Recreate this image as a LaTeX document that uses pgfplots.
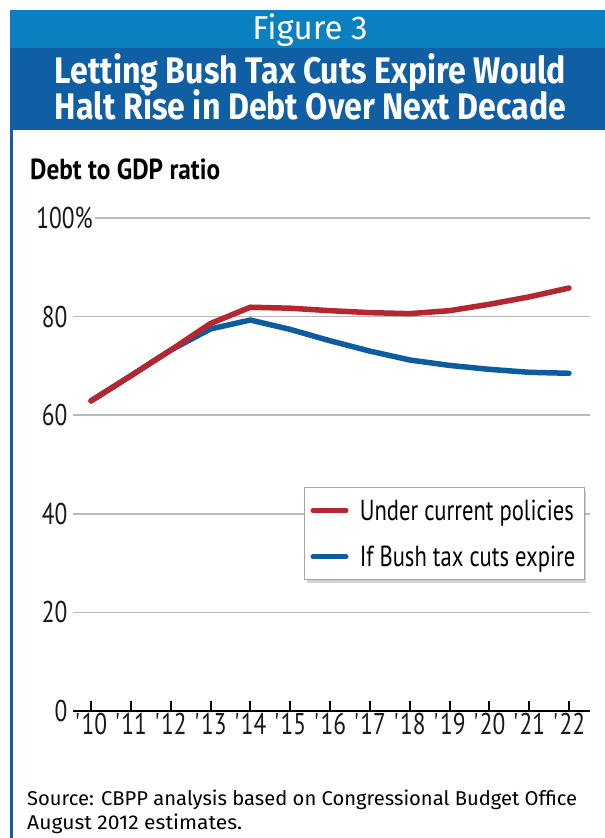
\documentclass[border=0pt]{standalone}
\usepackage{pgfplots}
\pgfplotsset{compat=1.18}
\usepackage{pgfplotstable}
\usepackage{graphicx}
\usepackage{fontspec}
\setmainfont{Fira Sans}
\newfontfamily\condfont[FakeStretch=0.78]{PT Sans}
\newfontfamily\plainfont{PT Sans}
\usetikzlibrary{shadows}
\makeatletter
\tikzset{no preaction/.code={\def\tikz@preactions{}}}
\makeatother
\definecolor{lblue}{RGB}{10,128,192}
\definecolor{dblue}{RGB}{16,94,164}
\definecolor{cred}{RGB}{180,38,48}
\definecolor{cblue}{RGB}{14,92,160}
\definecolor{gridgray}{RGB}{185,185,185}
\pgfplotstableread{
year red blue
2010 62.9 62.9
2011 68.0 68.0
2012 73.2 73.2
2013 78.6 77.5
2014 81.9 79.3
2015 81.7 77.4
2016 81.2 75.1
2017 80.8 73.0
2018 80.6 71.2
2019 81.2 70.1
2020 82.5 69.3
2021 84.0 68.7
2022 85.8 68.5
}\debt
\begin{document}
\begin{tikzpicture}[x=1pt,y=1pt]
\useasboundingbox (0,0) rectangle (605,838);
\fill[white] (0,0) rectangle (605,838);
\fill[lblue] (10,790) rectangle (605,828);
\fill[dblue] (10,708) rectangle (605,790);
\fill[dblue] (10,0) rectangle (13,790);
\node[anchor=base, text=white, inner sep=0, font=\fontsize{33}{33}\selectfont] at (310,798) {Figure 3};
\node[anchor=base, text=white, inner sep=0, font=\bfseries\fontsize{37}{37}\selectfont] at (310.5,754) {\resizebox{511pt}{\height}{Letting Bush Tax Cuts Expire Would}};
\node[anchor=base, text=white, inner sep=0, font=\bfseries\fontsize{37}{37}\selectfont] at (310.5,718) {\resizebox{511pt}{\height}{Halt Rise in Debt Over Next Decade}};
\node[anchor=base west, inner sep=0, font=\plainfont\bfseries\fontsize{29}{29}\selectfont] at (30,658) {\resizebox{190pt}{\height}{Debt to GDP ratio}};
\node[anchor=base west, inner sep=0, font=\fontsize{20}{20}\selectfont] at (27,32) {\resizebox{550pt}{\height}{Source: CBPP analysis based on Congressional Budget Office}};
\node[anchor=base west, inner sep=0, font=\fontsize{20}{20}\selectfont] at (27,9) {\resizebox{215pt}{\height}{August 2012 estimates.}};
\begin{axis}[
  at={(73pt,127pt)}, anchor=south west,
  width=517pt, height=493pt, scale only axis,
  xmin=2009.548, xmax=2022.527, ymin=0, ymax=100,
  axis lines*=left,
  y axis line style={draw=none},
  x axis line style={black, line width=2pt},
  xtick={2010,2011,...,2022},
  xticklabels={\textquotesingle10,\textquotesingle11,\textquotesingle12,\textquotesingle13,\textquotesingle14,\textquotesingle15,\textquotesingle16,\textquotesingle17,\textquotesingle18,\textquotesingle19,\textquotesingle20,\textquotesingle21,\textquotesingle22},
  xtick align=inside, major tick length=10pt,
  x tick style={black, line width=2pt},
  ytick={0,20,40,60,80}, yticklabels={0,20,40,60,80},
  y tick style={draw=none},
  yticklabel style={xshift=-2pt},
  xticklabel style={yshift=1pt},
  extra y ticks={100}, extra y tick labels={100\%},
  extra y tick style={grid=major, yticklabel style={xshift=24pt, fill=white, inner xsep=2pt}},
  ymajorgrids, grid style={gridgray, line width=1.5pt},
  tick label style={font=\condfont\fontsize{30}{30}\selectfont, text=black!90},
  clip=false,
  legend style={at={(0.447,0.454)}, anchor=north west, draw=gray!70, line width=0.8pt, fill=white,
    drop shadow={shadow xshift=2pt, shadow yshift=-3pt, opacity=0.35},
    font=\condfont\fontsize{29}{29}\selectfont, inner xsep=6pt, inner ysep=10pt, row sep=20pt,
    cells={anchor=west}, nodes={inner xsep=3pt}},
  legend image code/.code={\draw[no preaction, #1, line width=5pt, line cap=round] (2pt,0pt) -- (35pt,0pt); \path[no preaction] (43pt,0pt);},
  reverse legend,
]
\addplot[cblue, line width=5.5pt, line join=round, line cap=round] table[x=year, y=blue] {\debt};
\addlegendentry{If Bush tax cuts expire}
\addplot[cred, line width=5.5pt, line join=round, line cap=round] table[x=year, y=red] {\debt};
\addlegendentry{Under current policies}
\end{axis}
\end{tikzpicture}
\end{document}
